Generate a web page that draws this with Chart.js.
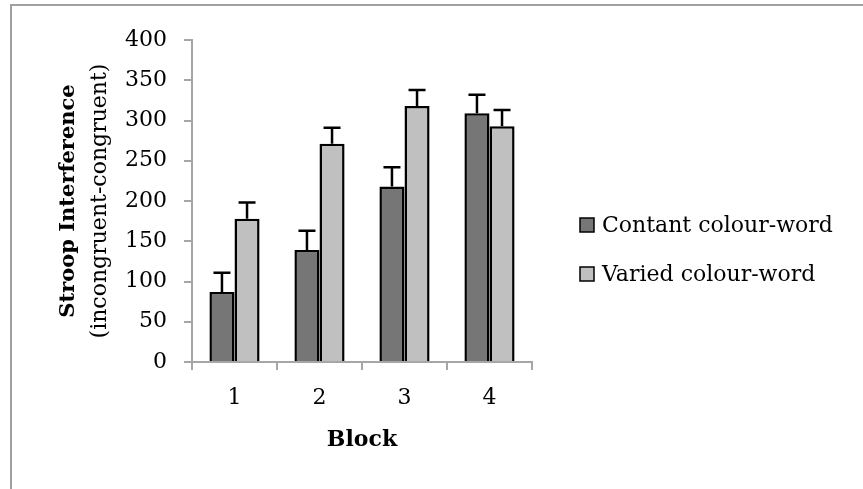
<!DOCTYPE html>
<html>
<head>
<meta charset="utf-8">
<script src="https://cdn.jsdelivr.net/npm/chart.js@4/dist/chart.umd.min.js"></script>
<style>
  html, body { margin: 0; padding: 0; background: #fff; }
  #wrap { width: 863px; height: 489px; }
</style>
</head>
<body>
<div id="wrap"><canvas id="myChart" width="863" height="489"></canvas></div>
<script>
// values
var blocks = ['1', '2', '3', '4'];
var constantMeans = [87, 139, 218, 309];
var constantErrors = [24, 24, 24, 23];
var variedMeans = [178, 271, 318, 293];
var variedErrors = [20, 20, 20, 20];

var serif = "'DejaVu Serif', serif";
var axisGrey = '#a6a6a6';

// only the upper half of each error bar is drawn
var errorBars = {
  id: 'errorBars',
  afterDatasetsDraw: function(chart){
    var ctx = chart.ctx;
    var yScale = chart.scales.y;
    ctx.save();
    ctx.strokeStyle = '#000';
    ctx.lineWidth = 2.5;
    chart.data.datasets.forEach(function(ds, i){
      var meta = chart.getDatasetMeta(i);
      meta.data.forEach(function(bar, j){
        var top = yScale.getPixelForValue(ds.data[j] + ds.errors[j]);
        ctx.beginPath();
        ctx.moveTo(bar.x, bar.y);
        ctx.lineTo(bar.x, top);
        ctx.moveTo(bar.x - 8.5, top);
        ctx.lineTo(bar.x + 8.5, top);
        ctx.stroke();
      });
    });
    ctx.restore();
  }
};

// frame, y title on two lines (bold + normal), legend on the right
var decorations = {
  id: 'decorations',
  beforeDraw: function(chart){
    var ctx = chart.ctx;
    ctx.save();
    ctx.strokeStyle = '#a0a0a0';
    ctx.lineWidth = 2;
    ctx.strokeRect(11, 5, 900, 600);
    ctx.restore();
  },
  afterDraw: function(chart){
    var ctx = chart.ctx;
    var area = chart.chartArea;
    var midY = (area.top + area.bottom) / 2;
    ctx.save();
    ctx.fillStyle = '#000';
    ctx.translate(0, midY);
    ctx.rotate(-Math.PI / 2);
    ctx.textAlign = 'center';
    ctx.textBaseline = 'alphabetic';
    ctx.font = 'bold 21px ' + serif;
    ctx.fillText('Stroop Interference', 0, 74);
    ctx.font = '22px ' + serif;
    ctx.fillText('(incongruent-congruent)', 0, 106);
    ctx.restore();

    // legend
    ctx.save();
    ctx.font = '22px ' + serif;
    ctx.textBaseline = 'middle';
    ctx.textAlign = 'left';
    var rows = [225, 274];
    chart.data.datasets.forEach(function(ds, i){
      var y = rows[i];
      ctx.fillStyle = ds.backgroundColor;
      ctx.fillRect(580, y - 7, 14, 14);
      ctx.strokeStyle = '#000';
      ctx.lineWidth = 1.5;
      ctx.strokeRect(580, y - 7, 14, 14);
      ctx.fillStyle = '#000';
      ctx.fillText(ds.label, 602, y + 1);
    });
    ctx.restore();
  }
};

var ctx = document.getElementById('myChart').getContext('2d');
var chart = new Chart(ctx, {
  type: 'bar',
  data: {
    labels: blocks,
    datasets: [{
      label: 'Contant colour-word',
      data: constantMeans,
      errors: constantErrors,
      backgroundColor: '#767676',
      borderColor: '#000',
      borderWidth: 2.5
    }, {
      label: 'Varied colour-word',
      data: variedMeans,
      errors: variedErrors,
      backgroundColor: '#c0c0c0',
      borderColor: '#000',
      borderWidth: 2.5
    }]
  },
  options: {
    responsive: false,
    animation: false,
    events: [],
    layout: { padding: { left: 0, top: 40, right: 331, bottom: 0 } },
    datasets: { bar: { categoryPercentage: 0.59, barPercentage: 1.0 } },
    plugins: { legend: { display: false }, tooltip: { enabled: false } },
    scales: {
      x: {
        afterFit: function(scale){ scale.height = 127; },
        grid: { drawOnChartArea: false, color: axisGrey, lineWidth: 2, tickLength: 8, offset: true },
        border: { color: axisGrey, width: 2 },
        ticks: { color: '#000', font: { family: serif, size: 22 }, padding: 15 },
        title: { display: true, text: 'Block', color: '#000', font: { family: serif, size: 22, weight: 'bold' }, padding: { top: 0, bottom: 36 } }
      },
      y: {
        min: 0,
        max: 400,
        afterFit: function(scale){ scale.width = 192; },
        grid: { drawOnChartArea: false, color: axisGrey, lineWidth: 2, tickLength: 8 },
        border: { color: axisGrey, width: 2 },
        ticks: { stepSize: 50, color: '#000', font: { family: serif, size: 22 }, padding: 17 }
      }
    }
  },
  plugins: [errorBars, decorations]
});
</script>
</body>
</html>
